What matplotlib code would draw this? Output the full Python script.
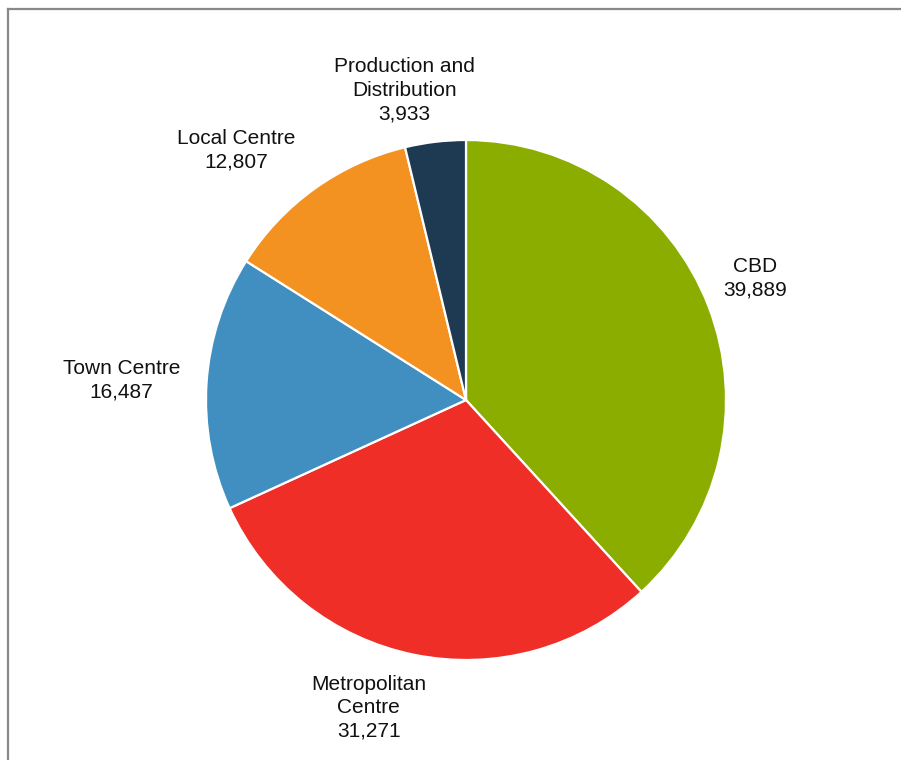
import numpy as np
import matplotlib
matplotlib.use("Agg")
import matplotlib.pyplot as plt
from matplotlib.lines import Line2D

plt.rcParams['font.family'] = ['Liberation Sans', 'DejaVu Sans']

categorias = ["CBD", "Metropolitan\nCentre", "Town Centre", "Local Centre", "Production and\nDistribution"]
valores = [39889, 31271, 16487, 12807, 3933]
colores = ["#8aad00", "#ee2e27", "#418fc0", "#f39220", "#1e3a52"]
# ajuste de cada etiqueta en pixeles (x, y)
ajustes = [(-2, 9), (-35, -2), (-33, -1), (-48, -4), (-25, 0)]

fig = plt.figure(figsize=(9.01, 7.6), dpi=100)
W, H = 901, 760
cx, cy, R = 466, 400, 260
lado = 3 * R
ax = fig.add_axes([(cx - lado / 2) / W, ((H - cy) - lado / 2) / H, lado / W, lado / H])

wedges, _ = ax.pie(valores, colors=colores, startangle=90, counterclock=False,
                   wedgeprops=dict(edgecolor="white", linewidth=1.6))
ax.set_xlim(-1.5, 1.5)
ax.set_ylim(-1.5, 1.5)
ax.axis("off")

for w, cat, val, (dx, dy) in zip(wedges, categorias, valores, ajustes):
    ang = np.deg2rad((w.theta1 + w.theta2) / 2)
    x, y = 1.2 * np.cos(ang), 1.2 * np.sin(ang)
    ax.annotate(f"{cat}\n{val:,}", (x, y), xytext=(dx, dy), textcoords="offset pixels",
                ha="center", va="center", fontsize=15, linespacing=1.3, color="#111111")

# borde gris
fig.add_artist(Line2D([7.5 / W, 7.5 / W], [0, 1 - 9 / H], transform=fig.transFigure, color="#888888", lw=1.6))
fig.add_artist(Line2D([7.5 / W, 1], [1 - 9 / H, 1 - 9 / H], transform=fig.transFigure, color="#888888", lw=1.6))

fig.savefig("out.png", dpi=100)
